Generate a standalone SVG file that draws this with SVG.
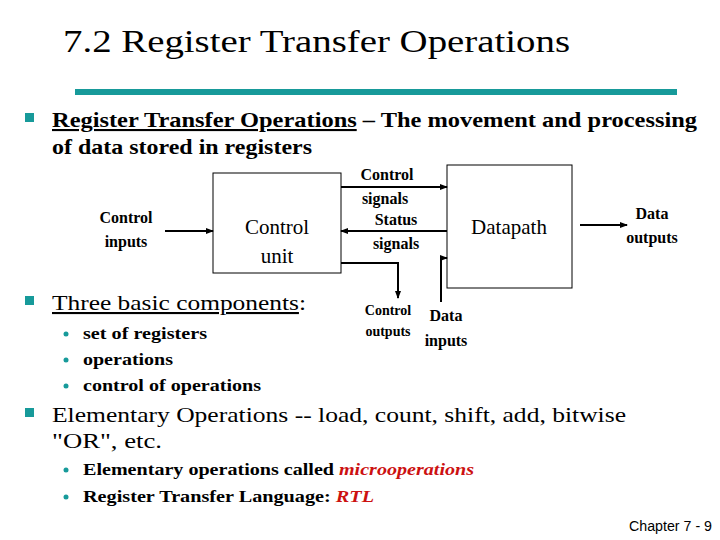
<svg xmlns="http://www.w3.org/2000/svg" width="720" height="540" viewBox="0 0 720 540" font-family="Liberation Serif, Times New Roman, serif">
<style>
text{font-family:"Liberation Serif","Times New Roman",serif;fill:#000}
.b{font-weight:bold}
.l1{font-size:21px}
.l2{font-size:16px;font-weight:bold}
.lab{font-size:16px;font-weight:bold}
.red{fill:#cc1111;font-style:italic;font-weight:bold}
.sq{fill:#179a9a}
.box{fill:#fff;stroke:#000;stroke-width:1}
.ln{stroke:#000;stroke-width:2;fill:none}
</style>
<defs><marker id="ah" markerWidth="8" markerHeight="8" refX="7" refY="4" orient="auto" markerUnits="userSpaceOnUse"><path d="M0,1 L8,4 L0,7 z" fill="#000"/></marker></defs>
<rect width="720" height="540" fill="#fff"/>
<text x="63" y="52" font-size="31" textLength="507" lengthAdjust="spacingAndGlyphs">7.2 Register Transfer Operations</text>
<rect x="75" y="89" width="602" height="6" class="sq"/>
<rect x="25" y="113" width="9" height="9" class="sq"/>
<text x="52" y="127" class="l1 b" textLength="645" lengthAdjust="spacingAndGlyphs"><tspan text-decoration="underline">Register Transfer Operations</tspan> – The movement and processing</text>
<text x="52" y="154" class="l1 b" textLength="260" lengthAdjust="spacingAndGlyphs">of data stored in registers</text>
<rect x="25" y="296" width="9" height="9" class="sq"/>
<text x="52" y="310" class="l1" textLength="254" lengthAdjust="spacingAndGlyphs"><tspan text-decoration="underline">Three basic components</tspan>:</text>
<circle cx="66" cy="334" r="2.5" class="sq"/><text x="83" y="339" class="l2" textLength="124" lengthAdjust="spacingAndGlyphs">set of registers</text>
<circle cx="66" cy="360" r="2.5" class="sq"/><text x="83" y="365" class="l2" textLength="90" lengthAdjust="spacingAndGlyphs">operations</text>
<circle cx="66" cy="386" r="2.5" class="sq"/><text x="83" y="391" class="l2" textLength="178" lengthAdjust="spacingAndGlyphs">control of operations</text>
<rect x="25" y="408" width="9" height="9" class="sq"/>
<text x="52" y="422" class="l1" textLength="574" lengthAdjust="spacingAndGlyphs">Elementary Operations -- load, count, shift, add, bitwise</text>
<text x="52" y="448" class="l1" textLength="110" lengthAdjust="spacingAndGlyphs">"OR", etc.</text>
<circle cx="66" cy="470" r="2.5" class="sq"/><text x="83" y="475" class="l2" textLength="391" lengthAdjust="spacingAndGlyphs">Elementary operations called <tspan class="red">microoperations</tspan></text>
<circle cx="66" cy="497" r="2.5" class="sq"/><text x="83" y="502" class="l2" textLength="291" lengthAdjust="spacingAndGlyphs">Register Transfer Language: <tspan class="red">RTL</tspan></text>
<text x="629" y="531" font-size="14" style="font-family:'Liberation Sans',Arial,sans-serif" textLength="83" lengthAdjust="spacingAndGlyphs">Chapter 7 - 9</text>

<g id="control-unit"><rect x="213" y="173" width="128" height="100" class="box"/>
<text x="277" y="234" text-anchor="middle" font-size="21">Control</text>
<text x="277" y="263" text-anchor="middle" font-size="21">unit</text></g>
<g id="datapath"><rect x="447" y="165" width="125" height="123" class="box"/>
<text x="509" y="234" text-anchor="middle" font-size="21">Datapath</text></g>
<g id="labels" text-anchor="middle">
<text x="126" y="223" class="lab">Control</text><text x="126" y="247" class="lab">inputs</text>
<text x="387" y="180" class="lab">Control</text><text x="385" y="204" class="lab">signals</text>
<text x="396" y="225" class="lab">Status</text><text x="396" y="249" class="lab">signals</text>
<text x="652" y="219" class="lab">Data</text><text x="652" y="243" class="lab">outputs</text>
<text x="388" y="315" class="lab" style="font-size:14px">Control</text><text x="388" y="336" class="lab" style="font-size:14px">outputs</text>
<text x="446" y="321" class="lab">Data</text><text x="446" y="346" class="lab">inputs</text>
</g>
<g id="connectors">
<line x1="165" y1="231" x2="213" y2="231" class="ln" marker-end="url(#ah)"/>
<line x1="341" y1="187" x2="447" y2="187" class="ln" marker-end="url(#ah)"/>
<line x1="447" y1="231" x2="341" y2="231" class="ln" marker-end="url(#ah)"/>
<polyline points="341,263 398,263 398,298" class="ln" marker-end="url(#ah)"/>
<polyline points="441,302 441,258 447,258" class="ln" marker-end="url(#ah)"/>
<line x1="580" y1="225" x2="627" y2="225" class="ln" marker-end="url(#ah)"/>
</g>
</svg>
